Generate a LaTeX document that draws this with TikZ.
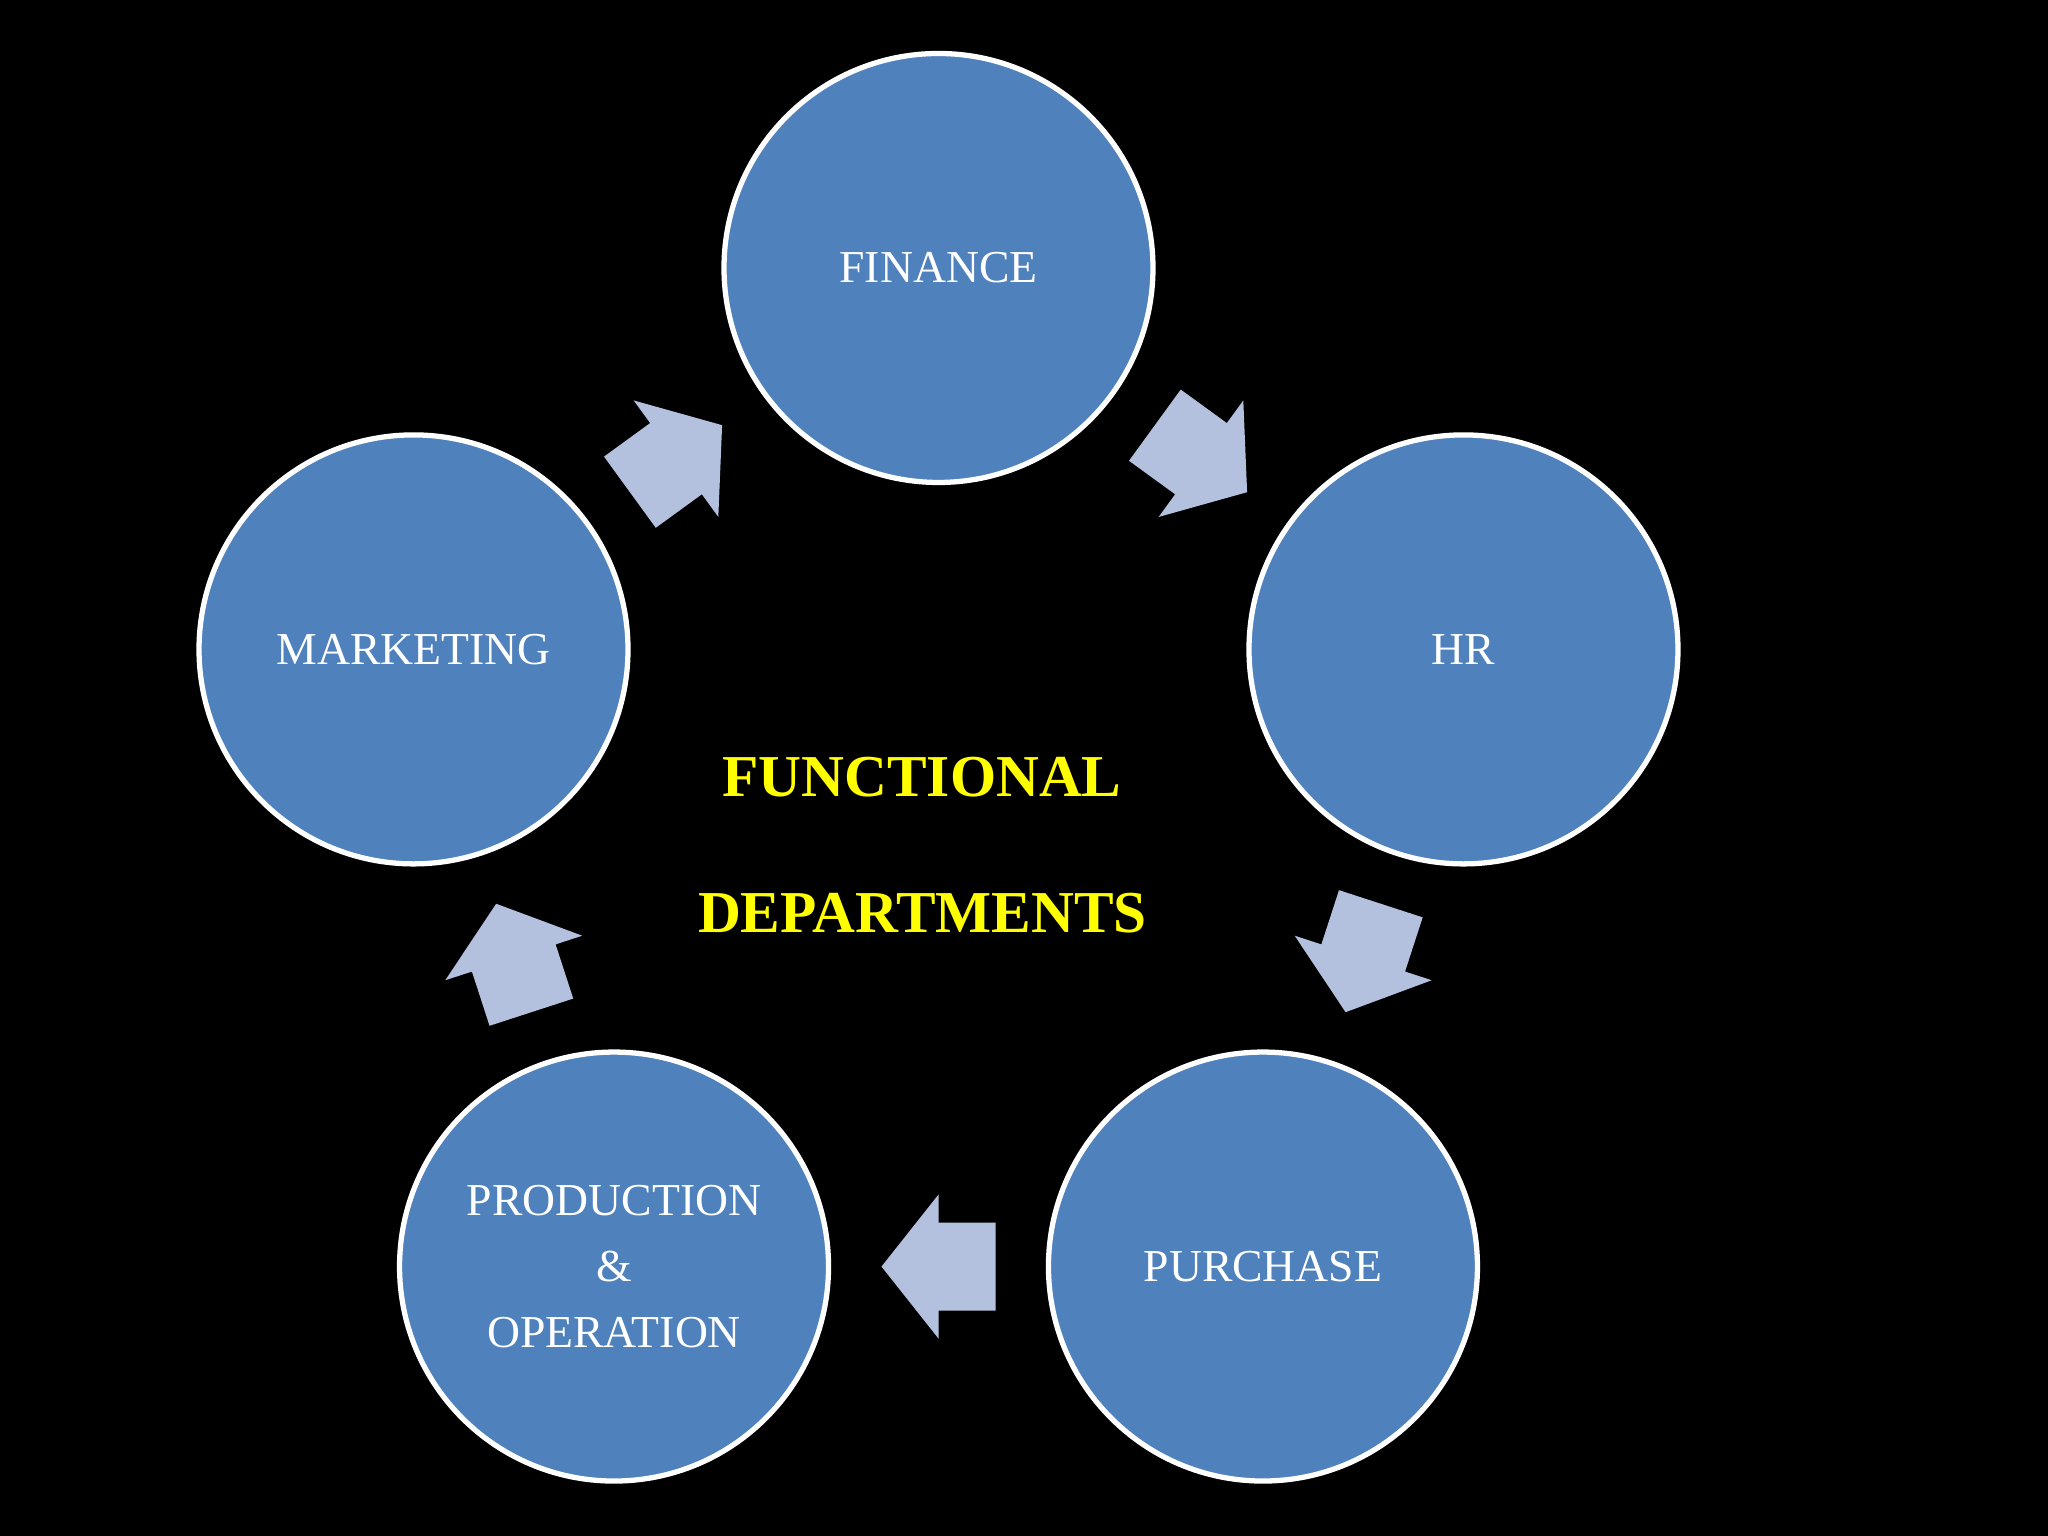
\documentclass[tikz,border=0pt]{standalone}
\usepackage{fontspec}
\setmainfont{Liberation Serif}
\usetikzlibrary{calc}
\definecolor{disc}{HTML}{4F81BD}
\definecolor{flow}{HTML}{B4C1DE}
\definecolor{headline}{HTML}{FFFF00}

\begin{document}
\begin{tikzpicture}[
  dept/.style={circle,draw=white,line width=1.5pt,fill=disc,
    minimum size=4.29cm,inner sep=0pt,text=white,align=center,
    font=\fontsize{13}{18.7}\selectfont},
  heading/.style={text=headline,anchor=base,
    font=\fontsize{16.9}{20}\selectfont\bfseries},
  cyclearrow/.pic={
    \fill[flow] (-.57,-.44) -- (0,-.44) -- (0,-.72) -- (.57,0)
      -- (0,.72) -- (0,.44) -- (-.57,.44) -- cycle;}
]
  \fill[black] (0,0) rectangle (20.48,15.36);
  \coordinate (hub) at (9.385,7.16);

  \foreach \name/\ang/\txt in {fin/90/FINANCE,hr/18/HR,pur/-54/PURCHASE,
      prod/-126/{PRODUCTION\\\&\\OPERATION},mkt/162/MARKETING}{
    \node[dept] (\name) at ($(hub)+(\ang:5.52)$) {\txt};
  }

  \foreach \from/\to in {mkt/fin,fin/hr,hr/pur,pur/prod,prod/mkt}{
    \path (\from) -- (\to)
      pic[midway,sloped,allow upside down] {cyclearrow};
  }

  \node[heading] (func) at (9.22,7.393) {FUNCTIONAL};
  \node[heading] (depts) at (9.225,6.033) {DEPARTMENTS};
\end{tikzpicture}
\end{document}
